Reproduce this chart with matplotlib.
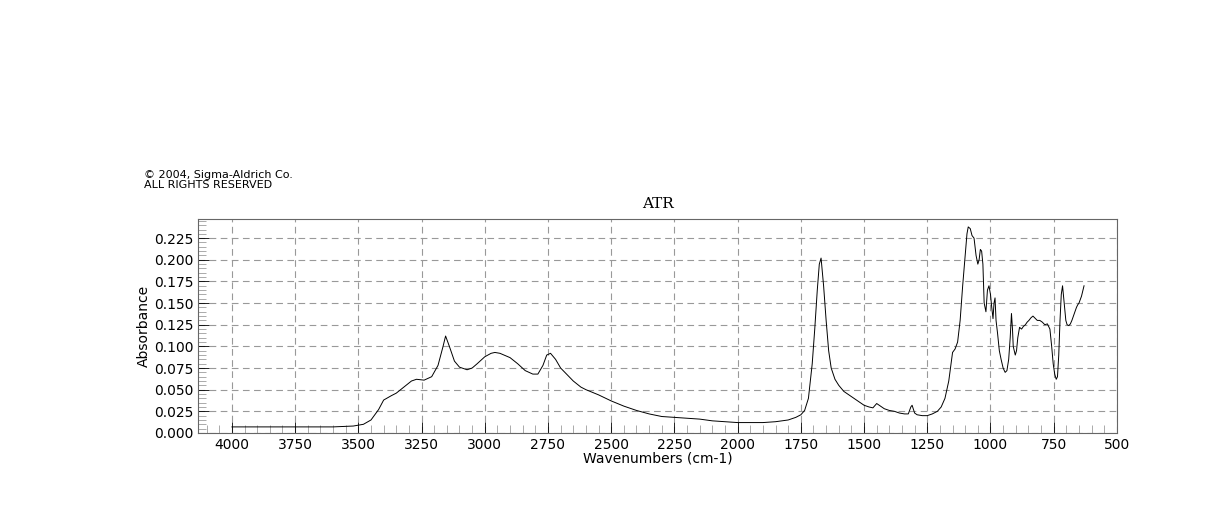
import matplotlib
matplotlib.use("Agg")
import matplotlib.pyplot as plt
from matplotlib.ticker import MultipleLocator

# (wavenumber, absorbance)
spectrum = [
(4000,0.007),(3900,0.007),(3800,0.007),(3700,0.007),(3600,0.007),(3520,0.008),(3480,0.010),
(3450,0.015),(3420,0.027),(3400,0.038),(3370,0.043),(3350,0.046),(3320,0.053),(3290,0.060),
(3270,0.062),(3240,0.061),(3210,0.065),(3185,0.078),(3165,0.100),(3155,0.112),(3140,0.100),
(3120,0.083),(3100,0.076),(3070,0.073),(3050,0.075),(3030,0.080),(3000,0.088),(2975,0.092),
(2960,0.093),(2940,0.092),(2900,0.087),(2870,0.080),(2840,0.072),(2810,0.068),(2790,0.068),
(2770,0.078),(2755,0.090),(2740,0.092),(2720,0.085),(2700,0.075),(2670,0.066),(2650,0.060),
(2620,0.053),(2600,0.050),(2550,0.044),(2500,0.037),(2450,0.031),(2400,0.026),(2350,0.022),
(2300,0.019),(2250,0.018),(2200,0.017),(2150,0.016),(2100,0.014),(2050,0.013),(2000,0.012),
(1950,0.012),(1900,0.012),(1850,0.013),(1800,0.015),(1770,0.018),(1750,0.021),(1735,0.026),
(1720,0.040),(1705,0.080),(1695,0.120),(1685,0.165),(1677,0.195),(1670,0.202),(1660,0.170),
(1650,0.130),(1640,0.095),(1630,0.075),(1615,0.062),(1600,0.055),(1580,0.048),(1560,0.044),
(1540,0.040),(1520,0.036),(1500,0.032),(1480,0.030),(1465,0.029),(1450,0.034),(1440,0.032),
(1420,0.028),(1400,0.026),(1380,0.025),(1360,0.023),(1340,0.022),(1325,0.022),(1315,0.030),
(1310,0.032),(1300,0.023),(1290,0.021),(1270,0.020),(1250,0.020),(1230,0.022),(1210,0.025),
(1195,0.030),(1180,0.040),(1165,0.060),(1150,0.093),(1140,0.097),(1130,0.105),(1120,0.130),
(1110,0.170),(1100,0.205),(1093,0.230),(1088,0.238),(1080,0.236),(1073,0.228),(1065,0.225),
(1057,0.205),(1050,0.195),(1045,0.200),(1040,0.212),(1035,0.210),(1030,0.195),(1025,0.150),
(1018,0.140),(1012,0.165),(1006,0.170),(1000,0.160),(995,0.145),(990,0.132),(986,0.150),
(982,0.156),(978,0.130),(972,0.115),(965,0.095),(958,0.085),(950,0.075),(942,0.070),
(935,0.072),(928,0.085),(922,0.110),(917,0.138),(913,0.120),(910,0.100),(906,0.095),
(902,0.090),(897,0.095),(892,0.110),(885,0.122),(877,0.120),(870,0.123),(862,0.125),
(855,0.128),(848,0.130),(840,0.133),(832,0.135),(825,0.133),(815,0.130),(805,0.130),
(795,0.128),(785,0.125),(775,0.126),(765,0.120),(758,0.100),(752,0.080),(746,0.068),
(740,0.062),(735,0.065),(730,0.090),(725,0.130),(720,0.160),(715,0.170),(711,0.158),
(707,0.145),(702,0.130),(697,0.125),(690,0.124),(684,0.126),(678,0.130),(672,0.135),
(666,0.140),(660,0.145),(655,0.148),(650,0.150),(640,0.158),(630,0.170),
]
wn = [p[0] for p in spectrum]
ab = [p[1] for p in spectrum]

fig = plt.figure(figsize=(12.18, 5.28), dpi=100)
ax = fig.add_axes([0.1626, 0.180, 0.7544, 0.405])
ax.plot(wn, ab, color="black", lw=0.7)
ax.set_xlim(4134, 500)
ax.set_ylim(0, 0.247)
ax.xaxis.set_major_locator(MultipleLocator(250))
ax.xaxis.set_minor_locator(MultipleLocator(50))
ax.yaxis.set_major_locator(MultipleLocator(0.025))
ax.yaxis.set_minor_locator(MultipleLocator(0.005))
ax.yaxis.set_major_formatter(lambda v, p: f"{v:.3f}")
ax.tick_params(which="both", direction="in", labelsize=10)
ax.tick_params(which="major", length=8, width=0.6)
ax.tick_params(which="minor", length=6, width=0.5, color="#888888")
ax.grid(True, which="major", ls=(0, (6, 4)), color="#999999", lw=0.8)
ax.set_xlabel("Wavenumbers (cm-1)", fontsize=10, labelpad=0)
ax.set_ylabel("Absorbance", fontsize=10, labelpad=2)
ax.set_title("ATR", family="DejaVu Serif", fontsize=11, pad=8)
for s in ax.spines.values():
    s.set_color("#666666")
fig.text(0.118, 0.64, "© 2004, Sigma-Aldrich Co.\nALL RIGHTS RESERVED", fontsize=8, va="bottom", linespacing=1.0)
fig.savefig("out.png", dpi=100)
